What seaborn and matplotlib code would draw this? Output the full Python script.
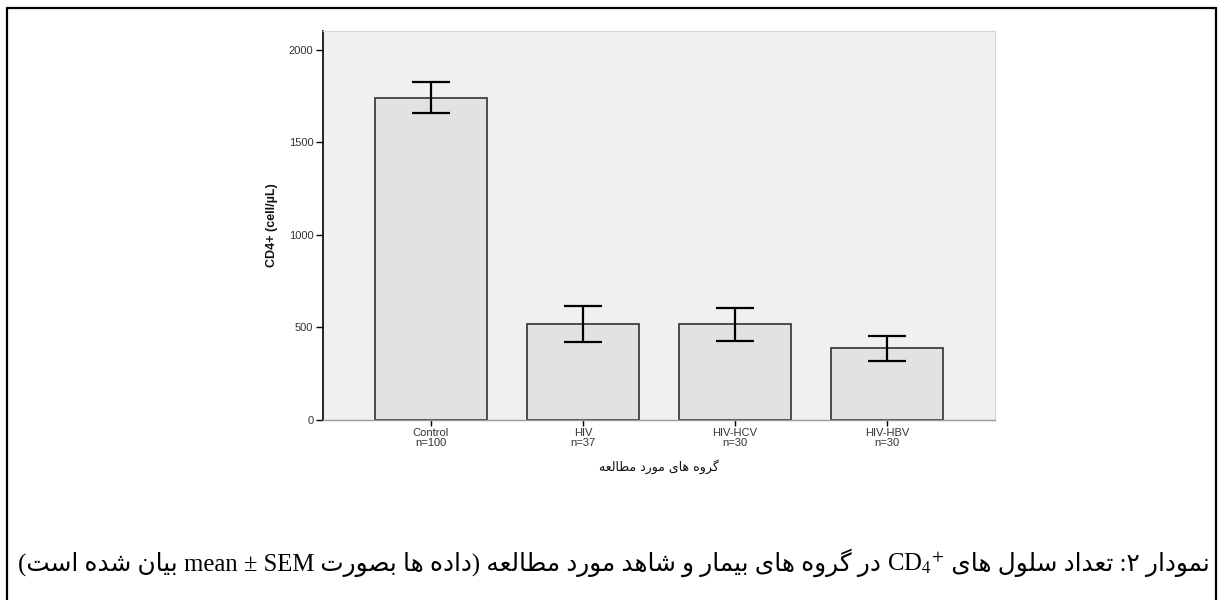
import matplotlib
matplotlib.use("Agg")
import matplotlib.pyplot as plt
import seaborn as sns
import pandas as pd
from matplotlib.lines import Line2D

# ---------------- data ----------------
groups = ["Control", "HIV", "HIV-HCV", "HIV-HBV"]
group_n = [100, 37, 30, 30]
means = [1741, 519, 516, 387]
sems = [84, 97, 89, 68]
y_ticks = [0, 500, 1000, 1500, 2000]
y_label = "CD4+ (cell/µL)"
x_label = "گروه های مورد مطالعه"
cap_part1 = "نمودار ۲: تعداد سلول های "
cap_part2 = " در گروه های بیمار و شاهد مورد مطالعه (داده ها بصورت "
cap_latin = "mean ± SEM"
cap_part3 = " بیان شده است)"

# ------------- simple Arabic/Persian shaping -------------
FORMS = {
    '\u0627': ('\uFE8D', '\uFE8E', None, None),
    '\u0628': ('\uFE8F', '\uFE90', '\uFE91', '\uFE92'),
    '\u062A': ('\uFE95', '\uFE96', '\uFE97', '\uFE98'),
    '\u062F': ('\uFEA9', '\uFEAA', None, None),
    '\u0631': ('\uFEAD', '\uFEAE', None, None),
    '\u0632': ('\uFEAF', '\uFEB0', None, None),
    '\u0633': ('\uFEB1', '\uFEB2', '\uFEB3', '\uFEB4'),
    '\u0634': ('\uFEB5', '\uFEB6', '\uFEB7', '\uFEB8'),
    '\u0635': ('\uFEB9', '\uFEBA', '\uFEBB', '\uFEBC'),
    '\u0637': ('\uFEC1', '\uFEC2', '\uFEC3', '\uFEC4'),
    '\u0639': ('\uFEC9', '\uFECA', '\uFECB', '\uFECC'),
    '\u0644': ('\uFEDD', '\uFEDE', '\uFEDF', '\uFEE0'),
    '\u0645': ('\uFEE1', '\uFEE2', '\uFEE3', '\uFEE4'),
    '\u0646': ('\uFEE5', '\uFEE6', '\uFEE7', '\uFEE8'),
    '\u0647': ('\uFEE9', '\uFEEA', '\uFEEB', '\uFEEC'),
    '\u0648': ('\uFEED', '\uFEEE', None, None),
    '\u06CC': ('\uFBFC', '\uFBFD', '\uFBFE', '\uFBFF'),
    '\u06AF': ('\uFB92', '\uFB93', '\uFB94', '\uFB95'),
}
MIRROR = {'(': ')', ')': '('}


def shape(s):
    out = []
    for i, ch in enumerate(s):
        if ch not in FORMS:
            out.append(ch)
            continue
        iso, fin, ini, med = FORMS[ch]
        prev = s[i - 1] if i > 0 else ''
        nxt = s[i + 1] if i + 1 < len(s) else ''
        jp = prev in FORMS and FORMS[prev][2] is not None
        jn = nxt in FORMS and ini is not None
        if jp and jn:
            out.append(med)
        elif jp:
            out.append(fin)
        elif jn:
            out.append(ini)
        else:
            out.append(iso)
    return ''.join(out)


def rtl(s):
    return ''.join(MIRROR.get(c, c) for c in reversed(shape(s)))


# ---------------- figure ----------------
sns.set_theme(style="white")
plt.rcParams['font.family'] = ['Liberation Sans', 'DejaVu Sans']
plt.rcParams['mathtext.fontset'] = 'stix'

fig = plt.figure(figsize=(12.19, 6.0), dpi=100)
fig.patch.set_facecolor("white")
ax = fig.add_axes([323 / 1219, 1 - 420 / 600, (995 - 323) / 1219, (420 - 31) / 600])
ax.set_facecolor("#F0F0F0")

df = pd.DataFrame({"group": groups, "mean": means})
sns.barplot(data=df, x="group", y="mean", errorbar=None, width=0.74,
            color="#E2E2E2", edgecolor="#404040", linewidth=1.3,
            saturation=1, ax=ax)
ax.errorbar(range(len(groups)), means, yerr=sems, fmt="none",
            ecolor="black", elinewidth=1.6, capsize=13.7, capthick=1.6, zorder=5)

ax.set_xlim(-0.71, 3.71)
ax.set_ylim(0, 2100)
ax.set_yticks(y_ticks)
ax.set_yticklabels([str(v) for v in y_ticks], fontsize=8, color="#333333")
ax.set_xticks(range(len(groups)))
ax.set_xticklabels([f"{g}\nn={n}" for g, n in zip(groups, group_n)],
                   fontsize=8, color="#333333", linespacing=0.95)
ax.tick_params(axis="y", direction="out", length=5, width=1, color="black", pad=2, left=True)
ax.tick_params(axis="x", direction="out", length=4, width=1, color="black", pad=2, bottom=True)

for side in ["top", "right"]:
    ax.spines[side].set_color("#d6d6d6")
    ax.spines[side].set_linewidth(0.8)
ax.spines["left"].set_color("black")
ax.spines["left"].set_linewidth(1.2)
ax.spines["bottom"].set_color("#9a9a9a")
ax.spines["bottom"].set_linewidth(1.0)

ax.set_ylabel(y_label, fontsize=9, fontweight="bold", color="#111111", labelpad=8)
ax.set_xlabel(rtl(x_label), fontsize=9, color="#111111", labelpad=8,
              family=['DejaVu Sans'])

# ---------------- page frame ----------------
for (x0, y0, x1, y1) in [(7, 8, 1216, 8), (7, 8, 7, 600), (1216, 8, 1216, 600)]:
    fig.add_artist(Line2D([x0 / 1219, x1 / 1219], [1 - y0 / 600, 1 - y1 / 600],
                          transform=fig.transFigure, color="black", linewidth=1.6))

# ---------------- caption (right-to-left, assembled from pieces) ----------------
fam = ['Liberation Serif', 'DejaVu Sans']
pieces = [rtl(cap_part1), "CD$_4$$^{+}$", rtl(cap_part2), cap_latin, rtl(cap_part3)]
fig.canvas.draw()
renderer = fig.canvas.get_renderer()

# measure at a trial size, then scale to span the reference width
trial = 13
total = 0
for txt in pieces:
    t = fig.text(0, 0, txt, fontsize=trial, family=fam)
    total += t.get_window_extent(renderer).width
    t.remove()
fs = trial * (1210 - 20) / total

x_right = 1210
y_base = 1 - 571 / 600
for txt in pieces:
    t = fig.text(x_right / 1219, y_base, txt, ha="right", va="baseline",
                 fontsize=fs, family=fam, color="black")
    bb = t.get_window_extent(renderer)
    x_right = x_right - bb.width

fig.savefig("out.png", dpi=100, facecolor="white")
